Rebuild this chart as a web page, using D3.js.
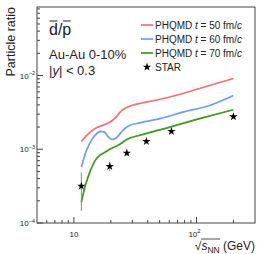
<!DOCTYPE html>
<html>
<head>
<meta charset="utf-8">
<script src="https://cdn.jsdelivr.net/npm/d3@7"></script>
<style>
  body { margin: 0; background: #fff; }
  svg { display: block; font-family: "Liberation Sans", Arial, sans-serif; }
</style>
</head>
<body>
<svg id="chart"></svg>
<script>
// PHQMD curves (sqrt(s_NN) in GeV, ratio)
const red50 = [[11.5, 1.28e-3], [13.5, 1.70e-3], [15.4, 1.98e-3], [17.2, 2.11e-3], [19.6, 2.32e-3],
  [22, 2.71e-3], [24.6, 3.37e-3], [27.5, 3.75e-3], [34.5, 4.18e-3], [45.7, 4.59e-3],
  [77.3, 5.71e-3], [128, 7.33e-3], [200, 9.1e-3]];
const blue60 = [[11.5, 5.7e-4], [12.5, 9.1e-4], [13.5, 1.21e-3], [15.1, 1.59e-3], [16.6, 1.75e-3],
  [17.6, 1.72e-3], [18.9, 1.5e-3], [20.4, 1.36e-3], [22, 1.41e-3], [25.1, 1.81e-3], [28.6, 2.11e-3],
  [34.5, 2.28e-3], [50.2, 2.6e-3], [77.3, 3.19e-3], [128, 3.93e-3], [200, 5.37e-3]];
const green70 = [[11.5, 1.92e-4], [12.5, 3.37e-4], [13.5, 4.89e-4], [14.8, 6.89e-4], [16.3, 8.3e-4],
  [17.9, 9.1e-4], [19.6, 1.0e-3], [23.7, 1.17e-3], [27, 1.36e-3], [34.5, 1.55e-3], [50.2, 1.83e-3],
  [106, 2.6e-3], [200, 3.44e-3]];

// STAR data
const starEnergy = [11.5, 19.6, 27, 39, 62.4, 200];
const starRatio = [3.16e-4, 5.86e-4, 8.9e-4, 1.28e-3, 1.75e-3, 2.77e-3];
const starErr = [1.7e-4, 0.8e-4, 0.8e-4, 0.8e-4, 1.0e-4, 2.0e-4];

const xMajor = [10, 100];
const xMinor = [6, 7, 8, 9, 20, 30, 40, 50, 60, 70, 80, 90, 200];
const yMajor = [-4, -3, -2];

const legendItems = [
  { label: "50", color: "#ff6b6f", data: red50 },
  { label: "60", color: "#6c9cff", data: blue60 },
  { label: "70", color: "#3b9a17", data: green70 }
];

const width = 266, height = 254;
const plot = { left: 37, right: 255, top: 7, bottom: 223 };

const svg = d3.select("#chart").attr("width", width).attr("height", height);

const x = d3.scaleLog().domain([5, 300]).range([plot.left, plot.right]);
const y = d3.scaleLog().domain([1e-4, 0.085]).range([plot.bottom, plot.top]);

const axisColor = "#444";

// frame
svg.append("rect")
  .attr("x", plot.left).attr("y", plot.top)
  .attr("width", plot.right - plot.left).attr("height", plot.bottom - plot.top)
  .attr("fill", "none").attr("stroke", axisColor).attr("stroke-width", 1);

// x ticks (inside)
const gx = svg.append("g").attr("stroke", axisColor);
xMajor.forEach(v => gx.append("line")
  .attr("x1", x(v)).attr("x2", x(v)).attr("y1", plot.bottom).attr("y2", plot.bottom - 6));
xMinor.forEach(v => gx.append("line")
  .attr("x1", x(v)).attr("x2", x(v)).attr("y1", plot.bottom).attr("y2", plot.bottom - 3));

svg.append("text").attr("x", x(10)).attr("y", 237)
  .attr("text-anchor", "middle").attr("font-size", 8).attr("fill", "#222").text("10");
const t100 = svg.append("text").attr("x", x(100) - 2).attr("y", 237)
  .attr("text-anchor", "middle").attr("font-size", 8).attr("fill", "#222");
t100.append("tspan").text("10");
t100.append("tspan").attr("dy", -4).attr("font-size", 6).text("2");

// y ticks (inside)
const gy = svg.append("g").attr("stroke", axisColor);
yMajor.forEach(e => {
  const v = Math.pow(10, e);
  gy.append("line").attr("x1", plot.left).attr("x2", plot.left + 6).attr("y1", y(v)).attr("y2", y(v));
  for (let k = 2; k <= 9; k++) {
    const m = k * v;
    if (m > y.domain()[1]) break;
    gy.append("line").attr("x1", plot.left).attr("x2", plot.left + 3).attr("y1", y(m)).attr("y2", y(m));
  }
  const t = svg.append("text").attr("x", plot.left - 2).attr("y", y(v) + 3)
    .attr("text-anchor", "end").attr("font-size", 8).attr("fill", "#222");
  t.append("tspan").text("10");
  t.append("tspan").attr("dy", -3.5).attr("font-size", 5.5).text("\u2212" + Math.abs(e));
});

// axis titles
svg.append("text")
  .attr("transform", `translate(15,${plot.top}) rotate(-90)`)
  .attr("text-anchor", "end").attr("font-size", 12.5).attr("fill", "#222")
  .text("Particle ratio");

const xt = svg.append("text").attr("x", plot.right).attr("y", 250)
  .attr("text-anchor", "end").attr("font-size", 12).attr("fill", "#222");
xt.append("tspan").text("\u221A");
xt.append("tspan").attr("font-style", "italic").text("s");
xt.append("tspan").attr("dy", 2.5).attr("font-size", 8.5).text("NN");
xt.append("tspan").attr("dy", -2.5).text(" (GeV)");
// overline of the root
{
  const node = xt.node();
  const x0 = node.getEndPositionOfChar(0).x;
  const x1 = node.getEndPositionOfChar(3).x;
  svg.append("line").attr("x1", x0 - 0.5).attr("x2", x1 + 0.5)
    .attr("y1", 239).attr("y2", 239).attr("stroke", "#222").attr("stroke-width", 0.8);
}

// annotations
const dp = svg.append("text").attr("x", 49).attr("y", 35)
  .attr("font-size", 16).attr("fill", "#222").text("d/p");
{
  const node = dp.node();
  [0, 2].forEach(i => {
    const a = node.getStartPositionOfChar(i).x, b = node.getEndPositionOfChar(i).x;
    svg.append("line").attr("x1", a + 0.5).attr("x2", b - 0.5)
      .attr("y1", 21).attr("y2", 21).attr("stroke", "#222").attr("stroke-width", 1);
  });
}
svg.append("text").attr("x", 49).attr("y", 59).attr("font-size", 13).attr("fill", "#222")
  .text("Au-Au 0-10%");
const yl = svg.append("text").attr("x", 49).attr("y", 75).attr("font-size", 13).attr("fill", "#222");
yl.append("tspan").text("|");
yl.append("tspan").attr("font-style", "italic").text("y");
yl.append("tspan").text("| < 0.3");

// curves
const line = d3.line().x(d => x(d[0])).y(d => y(d[1])).curve(d3.curveMonotoneX);
legendItems.forEach(s => {
  svg.append("path").datum(s.data)
    .attr("d", line).attr("fill", "none")
    .attr("stroke", s.color).attr("stroke-width", 1.7);
});

// STAR points
const star = d3.symbol().type(d3.symbolStar).size(22);
starEnergy.forEach((e, i) => {
  svg.append("line")
    .attr("x1", x(e)).attr("x2", x(e))
    .attr("y1", y(starRatio[i] - starErr[i])).attr("y2", y(starRatio[i] + starErr[i]))
    .attr("stroke", "#888").attr("stroke-width", 1);
  svg.append("path").attr("d", star)
    .attr("transform", `translate(${x(e)},${y(starRatio[i])})`)
    .attr("fill", "#000");
});

// legend
legendItems.forEach((s, i) => {
  const ly = 25 + i * 14;
  svg.append("line").attr("x1", 141).attr("x2", 153).attr("y1", ly).attr("y2", ly)
    .attr("stroke", s.color).attr("stroke-width", 1.7);
  const t = svg.append("text").attr("x", 155).attr("y", ly + 3.5)
    .attr("font-size", 10).attr("fill", "#222");
  t.append("tspan").text("PHQMD ");
  t.append("tspan").attr("font-style", "italic").text("t");
  t.append("tspan").text(` = ${s.label} fm/`);
  t.append("tspan").attr("font-style", "italic").text("c");
});
svg.append("path").attr("d", star).attr("transform", "translate(147,67)").attr("fill", "#000");
svg.append("text").attr("x", 155).attr("y", 70.5).attr("font-size", 10).attr("fill", "#222").text("STAR");
</script>
</body>
</html>
